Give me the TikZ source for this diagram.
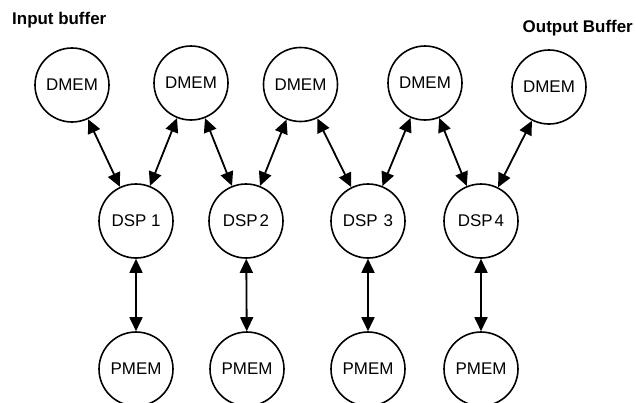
\documentclass[tikz,border=0pt]{standalone}
\usepackage{fontspec}
\setmainfont{Liberation Sans}
\usetikzlibrary{arrows.meta}
\begin{document}
\begin{tikzpicture}[x=1bp,y=-1bp,
  unit/.style={circle,draw,line width=1.6bp,minimum size=74bp,inner sep=0pt,font=\fontsize{17}{20}\selectfont},
  title/.style={font=\fontsize{17}{20}\selectfont\bfseries,inner sep=0pt},
  link/.style={line width=1.8bp,{Triangle[length=14bp,width=13bp]}-{Triangle[length=14bp,width=13bp]}}]
\useasboundingbox[fill=white] (0,0) rectangle (635,402);
\node[title,anchor=west] (inbuf) at (12,20) {Input buffer};
\node[title,anchor=east] (outbuf) at (633,28) {Output Buffer};
\node[unit] (m1) at (72,85) {DMEM};
\node[unit] (m2) at (191,83) {DMEM};
\node[unit] (m3) at (300.5,84.5) {DMEM};
\node[unit] (m4) at (425,83) {DMEM};
\node[unit] (m5) at (549,87) {DMEM};
\node[unit] (d1) at (136,221) {DSP 1};
\node[unit] (d2) at (246,221) {DSP\kern2pt2};
\node[unit] (d3) at (368,221) {DSP\kern6pt3};
\node[unit] (d4) at (481,221) {DSP\kern2pt4};
\node[unit] (p1) at (136,369) {PMEM};
\node[unit] (p2) at (247,369) {PMEM};
\node[unit] (p3) at (368,369) {PMEM};
\node[unit] (p4) at (481,369) {PMEM};
\draw[link] (m1) -- (d1);
\draw[link] (m2) -- (d1);
\draw[link] (m2) -- (d2);
\draw[link] (m3) -- (d2);
\draw[link] (m3) -- (d3);
\draw[link] (m4) -- (d3);
\draw[link] (m4) -- (d4);
\draw[link] (m5) -- (d4);
\draw[link] (d1) -- (p1);
\draw[link] (d2) -- (p2);
\draw[link] (d3) -- (p3);
\draw[link] (d4) -- (p4);
\end{tikzpicture}
\end{document}
